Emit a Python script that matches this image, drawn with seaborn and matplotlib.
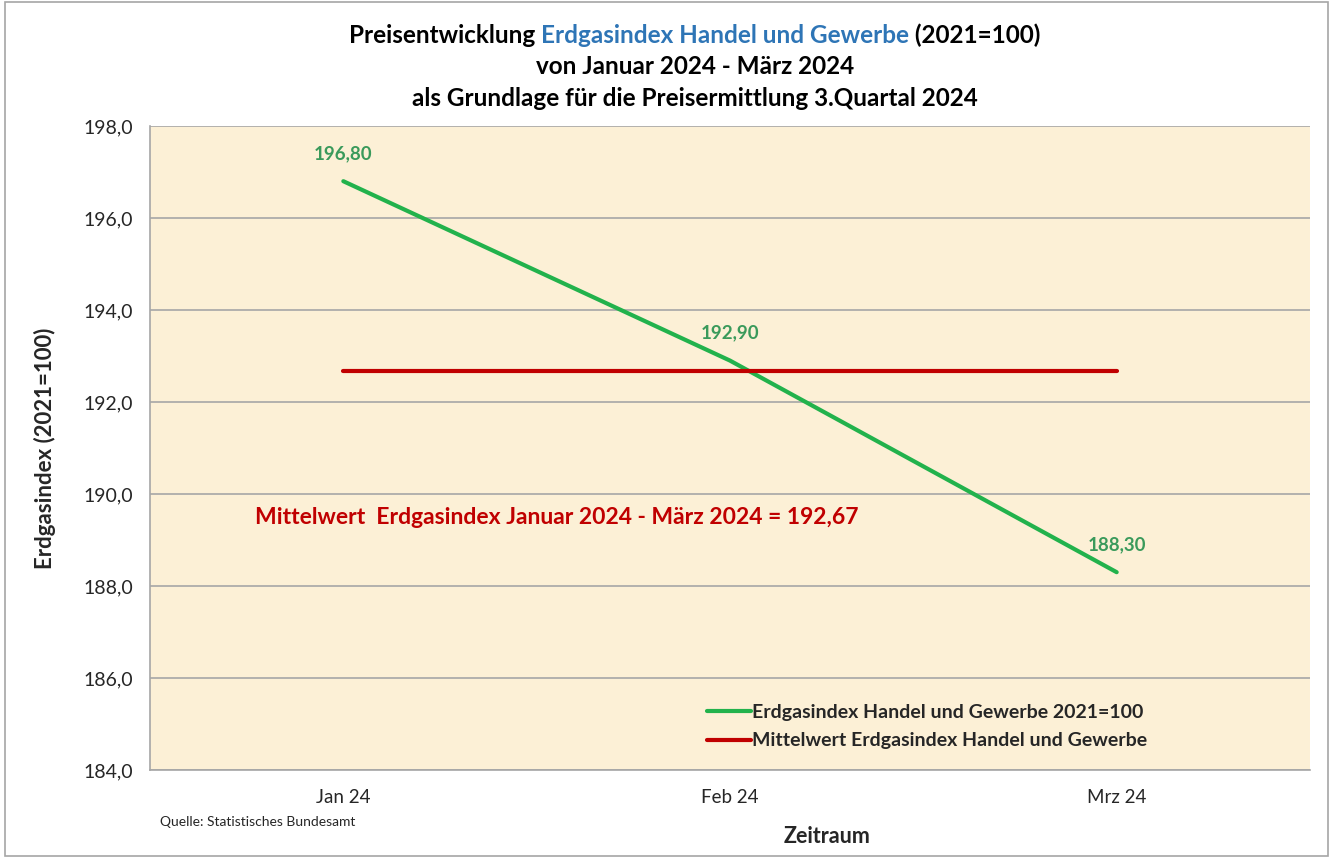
import numpy as np
import pandas as pd
import matplotlib
matplotlib.use("Agg")
import matplotlib.pyplot as plt
import seaborn as sns
from matplotlib.offsetbox import HPacker, TextArea, AnchoredOffsetbox
from matplotlib.ticker import FuncFormatter

# ============================================================
# DATA
# ============================================================
months = ["Jan 24", "Feb 24", "Mrz 24"]
index_values = [196.80, 192.90, 188.30]
mean_value = 192.67
y_ticks = [184, 186, 188, 190, 192, 194, 196, 198]

green = "#22b24c"
label_green = "#3a9a5b"
red = "#c00000"
blue = "#2e75b6"

df = pd.DataFrame({
    "Monat": months,
    "Erdgasindex Handel und Gewerbe 2021=100": index_values,
    "Mittelwert Erdgasindex Handel und Gewerbe": [mean_value] * len(months),
})
df_long = df.melt(id_vars="Monat", var_name="Reihe", value_name="Wert")

# ============================================================
# PLOT
# ============================================================
sns.set_style("white")
plt.rcParams["font.family"] = ["Lato", "DejaVu Sans"]

fig = plt.figure(figsize=(13.33, 8.58), dpi=100)
ax = fig.add_axes([150 / 1333, 1 - 770 / 858, 1160 / 1333, 644 / 858])
ax.set_facecolor("#fcf0d6")

sns.lineplot(data=df_long, x="Monat", y="Wert", hue="Reihe",
             palette=[green, red], linewidth=3, ax=ax, sort=False)

ax.set_xlim(-0.5, 2.5)
ax.set_ylim(184, 198)
ax.set_yticks(y_ticks)
ax.yaxis.set_major_formatter(FuncFormatter(lambda v, p: f"{v:.1f}".replace(".", ",")))
ax.grid(axis="y", color="#a6a6a6", linewidth=1.2)
ax.set_axisbelow(True)
ax.tick_params(axis="y", labelsize=14, length=0, pad=12)
ax.tick_params(axis="x", labelsize=13.5, length=0, pad=14)
for s in ["top", "right"]:
    ax.spines[s].set_visible(False)
for s in ["left", "bottom"]:
    ax.spines[s].set_color("#a6a6a6")
    ax.spines[s].set_linewidth(1.2)

# data labels
for i, v in enumerate(index_values):
    ax.annotate(f"{v:.2f}".replace(".", ","), (i, v), xytext=(0, 14),
                textcoords="offset points", ha="center", va="bottom",
                color=label_green, fontsize=13.5, fontweight="bold")

ax.text(-0.228, 189.48,
        f"Mittelwert  Erdgasindex Januar 2024 - März 2024 = {mean_value:.2f}".replace(".", ","),
        color=red, fontsize=16.5, fontweight="bold", va="center", ha="left")

leg = ax.legend(loc="lower left", bbox_to_anchor=(547 / 1160, 0.017), frameon=False,
                fontsize=14, handlelength=2.3, handletextpad=0.05,
                labelspacing=0.6, borderpad=0)
for t in leg.get_texts():
    t.set_fontweight("bold")

ax.set_xlabel("Zeitraum", fontsize=15.5, fontweight="bold")
ax.xaxis.set_label_coords(677 / 1160, -56 / 644)
ax.set_ylabel("Erdgasindex (2021=100)", fontsize=16, fontweight="bold")
ax.yaxis.set_label_coords(-94 / 1160, 0.5)

# title with coloured part
tprops = dict(fontsize=17.5, fontweight="bold", color="black")
line1 = HPacker(children=[
    TextArea("Preisentwicklung ", textprops=tprops),
    TextArea("Erdgasindex Handel und Gewerbe", textprops=dict(tprops, color=blue)),
    TextArea(" (2021=100)", textprops=tprops),
], align="baseline", pad=0, sep=0)
box = AnchoredOffsetbox(loc="center", child=line1, frameon=False,
                        bbox_to_anchor=(695 / 1333, 1 - 35 / 858),
                        bbox_transform=fig.transFigure, pad=0, borderpad=0)
fig.add_artist(box)
fig.text(695 / 1333, 1 - 67 / 858, "von Januar 2024 - März 2024", ha="center", va="center", **tprops)
fig.text(695 / 1333, 1 - 99 / 858, "als Grundlage für die Preisermittlung 3.Quartal 2024",
         ha="center", va="center", **tprops)

fig.text(160 / 1333, 1 - 822 / 858, "Quelle: Statistisches Bundesamt", fontsize=10, va="center")

# outer frame
fig.patches.append(plt.Rectangle((0.004, 0.002), 0.992, 0.996, transform=fig.transFigure,
                                 fill=False, edgecolor="#a6a6a6", linewidth=1.2))

fig.savefig("out.png", dpi=100)
